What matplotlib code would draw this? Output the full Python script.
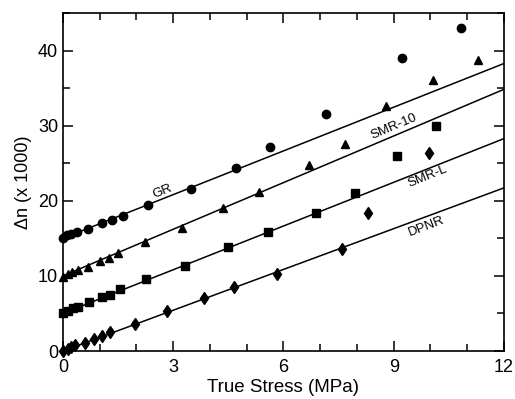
import numpy as np
import matplotlib
matplotlib.use("Agg")
import matplotlib.pyplot as plt
from matplotlib.ticker import MultipleLocator

plt.rcParams['font.family'] = ['Liberation Sans', 'DejaVu Sans']

# GR (circles)
gr_x = [0, 0.12, 0.23, 0.37, 0.69, 1.05, 1.33, 1.64, 2.3, 3.49, 4.72, 5.63, 7.16, 9.23, 10.83]
gr_y = [15.1, 15.4, 15.6, 15.9, 16.3, 17.0, 17.5, 18.0, 19.4, 21.6, 24.3, 27.1, 31.6, 39.0, 43.0]
# SMR-10 (triangles)
smr10_x = [0, 0.14, 0.24, 0.4, 0.69, 1.0, 1.25, 1.5, 2.23, 3.25, 4.35, 5.34, 6.7, 7.67, 8.8, 10.07, 11.3]
smr10_y = [9.9, 10.2, 10.5, 10.8, 11.2, 12.0, 12.4, 13.0, 14.5, 16.4, 19.1, 21.2, 24.7, 27.6, 32.6, 36.1, 38.8]
# SMR-L (squares)
smrl_x = [0, 0.14, 0.27, 0.4, 0.7, 1.05, 1.27, 1.54, 2.25, 3.32, 4.5, 5.59, 6.88, 7.95, 9.08, 10.16]
smrl_y = [5.0, 5.3, 5.7, 5.9, 6.5, 7.2, 7.5, 8.2, 9.6, 11.3, 13.8, 15.9, 18.4, 21.1, 25.9, 29.9]
# DPNR (diamonds)
dpnr_x = [0, 0.14, 0.23, 0.34, 0.6, 0.85, 1.07, 1.28, 1.96, 2.82, 3.85, 4.64, 5.82, 7.58, 8.31, 9.97]
dpnr_y = [0.0, 0.2, 0.5, 0.8, 1.1, 1.6, 2.0, 2.5, 3.6, 5.3, 7.1, 8.5, 10.3, 13.6, 18.4, 26.3]

# fitted lines: intercept, slope
fit_names = ["GR", "SMR-10", "SMR-L", "DPNR"]
fit_b = [15.0, 10.0, 5.0, 0.0]
fit_m = [1.94, 2.07, 1.94, 1.81]
label_pos = [(2.72, 21.3), (9.0, 29.9), (9.93, 23.2), (9.88, 16.6)]
label_rot = [22, 23, 22, 21]

fig = plt.figure(figsize=(5.15, 3.99), dpi=100)
ax = fig.add_axes([0.1223, 0.1203, 0.8563, 0.8471])

xx = np.array([0, 12])
for b, m in zip(fit_b, fit_m):
    ax.plot(xx, b + m*xx, color="black", lw=1.1, zorder=2)

ax.plot(gr_x, gr_y, "o", color="black", ms=6, zorder=3, clip_on=False)
ax.plot(smr10_x, smr10_y, "^", color="black", ms=6, zorder=3, clip_on=False)
ax.plot(smrl_x, smrl_y, "s", color="black", ms=5.5, zorder=3, clip_on=False)
ax.plot(dpnr_x, dpnr_y, "d", color="black", ms=6, zorder=3, clip_on=False)

for name, pos, rot in zip(fit_names, label_pos, label_rot):
    ax.text(pos[0], pos[1], name, rotation=rot, fontsize=9.5, ha="center", va="center")

ax.set_xlim(0, 12)
ax.set_ylim(0, 45)
ax.xaxis.set_major_locator(MultipleLocator(3))
ax.xaxis.set_minor_locator(MultipleLocator(1))
ax.yaxis.set_major_locator(MultipleLocator(10))
ax.yaxis.set_minor_locator(MultipleLocator(5))
ax.tick_params(which="both", direction="in", top=True, right=True, labelsize=13, width=1.1)
ax.tick_params(axis="x", pad=6)
ax.tick_params(which="major", length=7)
ax.tick_params(which="minor", length=5)
for s in ax.spines.values():
    s.set_linewidth(1.2)

ax.set_xlabel("True Stress (MPa)", fontsize=13.5, labelpad=2)
ax.set_ylabel("Δn (x 1000)", fontsize=13, labelpad=4)

fig.savefig("out.png", dpi=100)
